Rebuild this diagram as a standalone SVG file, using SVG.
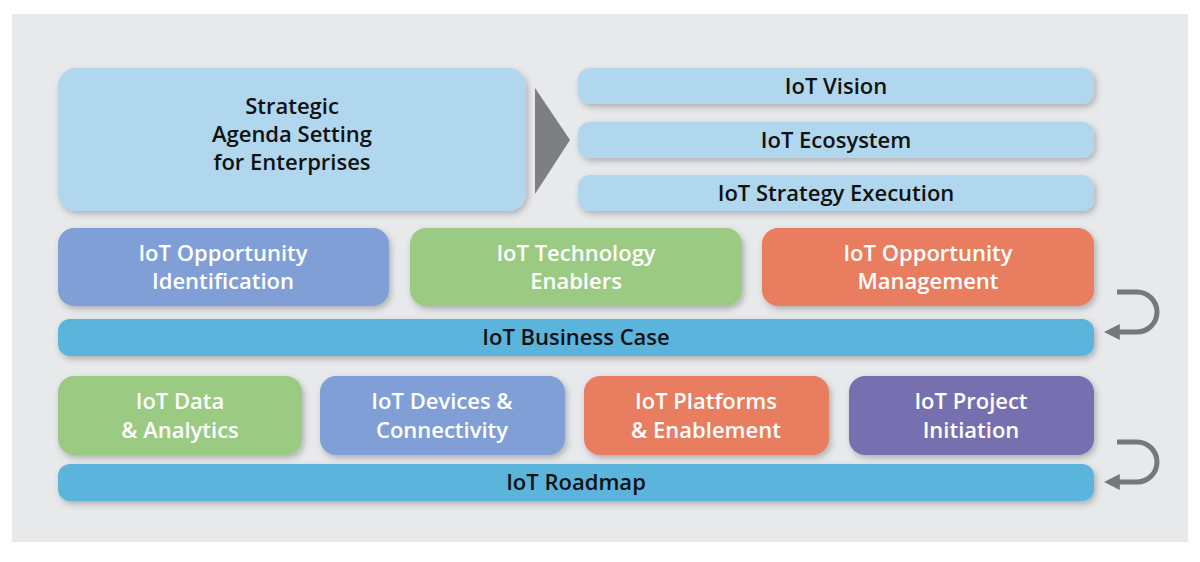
<svg xmlns="http://www.w3.org/2000/svg" width="1200" height="562" viewBox="0 0 1200 562">
<defs>
<filter id="sh" x="-10%" y="-20%" width="120%" height="150%"><feDropShadow dx="2" dy="3" stdDeviation="3" flood-color="#000" flood-opacity="0.25"/></filter>
<marker id="ah" viewBox="0 0 10 10" refX="3" refY="5" markerWidth="3.2" markerHeight="3.2" orient="auto"><path d="M0,0 L10,5 L0,10 Z" fill="#76787c"/></marker>
<style>
.b{filter:url(#sh)}
.t{font-family:"Open Sans","Noto Sans",sans-serif;font-weight:600;font-size:22px;text-anchor:middle}
.d{fill:#111}.w{fill:#fff}
.lb{fill:#b0d7ee}.bl{fill:#7f9fd6}.gr{fill:#9bcb82}.or{fill:#e87e5f}.cy{fill:#5ab4dc}.pu{fill:#7670b0}
</style>
</defs>
<rect width="1200" height="562" fill="#fff"/>
<rect x="12" y="14" width="1176" height="528" fill="#e8e9eb"/>
<g id="strategic"><rect class="b lb" x="58" y="68" width="468" height="143" rx="18"/><text class="t d" x="292" y="114">Strategic</text><text class="t d" x="292" y="142">Agenda Setting</text><text class="t d" x="292" y="170">for Enterprises</text></g>
<g id="vision"><rect class="b lb" x="578" y="68" width="516" height="36" rx="12"/><text class="t d" x="836" y="94">IoT Vision</text></g>
<g id="ecosystem"><rect class="b lb" x="578" y="122" width="516" height="36" rx="12"/><text class="t d" x="836" y="148">IoT Ecosystem</text></g>
<g id="execution"><rect class="b lb" x="578" y="175" width="516" height="36" rx="12"/><text class="t d" x="836" y="201">IoT Strategy Execution</text></g>
<g id="oppid"><rect class="b bl" x="58" y="228" width="331" height="78" rx="16"/><text class="t w" x="223" y="261">IoT Opportunity</text><text class="t w" x="223" y="289">Identification</text></g>
<g id="tech"><rect class="b gr" x="410" y="228" width="332" height="78" rx="16"/><text class="t w" x="576" y="261">IoT Technology</text><text class="t w" x="576" y="289">Enablers</text></g>
<g id="oppmgmt"><rect class="b or" x="762" y="228" width="332" height="78" rx="16"/><text class="t w" x="928" y="261">IoT Opportunity</text><text class="t w" x="928" y="289">Management</text></g>
<g id="business"><rect class="b cy" x="58" y="319" width="1036" height="37" rx="12"/><text class="t d" x="576" y="345">IoT Business Case</text></g>
<g id="data"><rect class="b gr" x="58" y="376" width="244" height="79" rx="16"/><text class="t w" x="180" y="409">IoT Data</text><text class="t w" x="180" y="438">&amp; Analytics</text></g>
<g id="devices"><rect class="b bl" x="320" y="376" width="245" height="79" rx="16"/><text class="t w" x="442" y="409">IoT Devices &amp;</text><text class="t w" x="442" y="438">Connectivity</text></g>
<g id="platforms"><rect class="b or" x="584" y="376" width="245" height="79" rx="16"/><text class="t w" x="706" y="409">IoT Platforms</text><text class="t w" x="706" y="438">&amp; Enablement</text></g>
<g id="project"><rect class="b pu" x="849" y="376" width="245" height="79" rx="16"/><text class="t w" x="971" y="409">IoT Project</text><text class="t w" x="971" y="438">Initiation</text></g>
<g id="roadmap"><rect class="b cy" x="58" y="464" width="1036" height="37" rx="12"/><text class="t d" x="576" y="490">IoT Roadmap</text></g>
<g id="connectors" fill="none" stroke="#76787c" stroke-width="5">
<path d="M535,88 L570,140 L535,194 Z" fill="#7d7f83" stroke="none"/>
<path d="M1117,292 H1137 A20,20 0 0 1 1137,332 H1115" marker-end="url(#ah)"/>
<path d="M1117,442 H1137 A20,20 0 0 1 1137,482 H1115" marker-end="url(#ah)"/>
</g>
</svg>
